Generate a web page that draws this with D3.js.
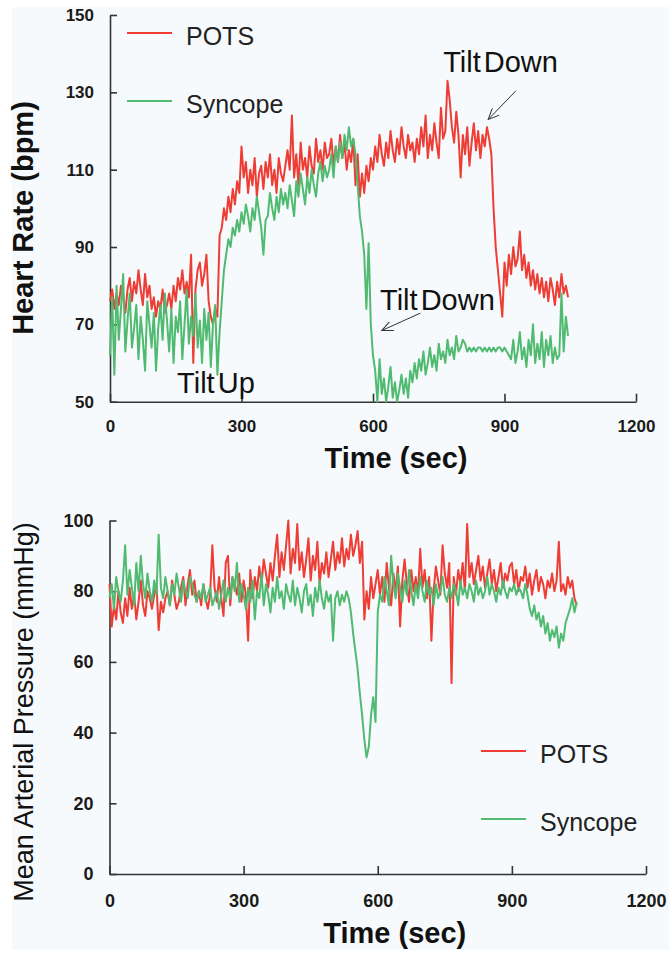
<!DOCTYPE html>
<html>
<head>
<meta charset="utf-8">
<script src="https://cdn.jsdelivr.net/npm/d3@7"></script>
<style>
  body { margin: 0; background: #fff; }
  .axis path, .axis line { stroke: #333; stroke-width: 1.6; }
  .axis text { fill: #1a1a1a; font-weight: bold; }
</style>
</head>
<body>
<div id="chart"></div>
<script>
// one sample every 5 seconds, starting at t = 0
var timeStep = 5;

var hrPots = [
  76,79,74,78,75,80,77,73,79,82,76,81,78,84,79,75,83,77,80,74,
  77,72,76,74,79,73,75,78,74,80,76,82,79,84,78,81,77,88,60,79,
  84,86,80,83,88,76,72,70,74,72,93,95,100,97,103,99,105,101,107,104,
  116,108,112,104,110,106,113,103,109,111,105,112,108,114,106,110,104,113,109,107,
  111,115,110,124,108,114,106,117,110,113,108,116,111,109,118,112,115,110,117,113,
  114,118,111,116,112,119,113,117,110,115,112,118,106,114,103,109,104,111,107,113,
  110,116,112,119,114,111,117,113,120,115,112,118,114,121,116,113,119,115,117,112,
  118,114,121,116,124,113,119,115,122,117,113,126,118,120,133,128,121,117,125,119,
  108,119,114,121,111,117,122,115,120,113,119,116,121,118,114,100,90,84,78,72,
  86,80,88,83,90,85,87,94,84,88,82,86,80,84,79,83,78,82,77,81,
  76,82,79,75,81,77,83,78,80,77
];

var hrSyncope = [
  62,77,57,80,66,74,83,63,71,78,64,69,75,61,72,66,58,76,70,64,
  73,58,69,75,66,78,71,63,74,60,72,68,76,61,70,79,65,72,67,78,
  64,71,60,74,66,73,59,70,75,57,68,76,84,88,92,90,95,93,97,94,
  99,96,101,98,94,100,97,103,99,95,88,97,98,104,100,97,103,99,105,101,
  104,100,106,102,98,107,103,109,105,101,108,104,110,106,103,109,112,107,111,108,
  110,114,108,116,112,117,113,119,115,121,116,118,114,106,98,94,88,74,91,70,
  62,58,50,61,52,56,50,54,59,51,55,50,53,57,52,56,51,58,55,60,
  56,61,58,63,57,60,64,59,62,58,65,61,63,60,66,62,64,61,67,63,
  64,66,65,63,64,63,64,63,64,64,63,64,63,64,63,64,63,64,64,63,
  64,63,62,61,66,60,63,68,61,64,59,66,62,70,60,65,61,68,59,66,
  62,67,60,64,61,62,78,63,72,67
];

var mapPots = [
  82,70,76,72,80,74,71,78,73,81,75,79,72,77,83,76,73,80,78,75,
  79,82,69,77,74,78,80,76,83,79,75,77,81,84,76,82,86,79,83,77,
  80,76,82,78,75,79,93,81,77,84,78,73,88,90,76,84,82,79,85,77,
  83,79,66,86,78,84,80,87,82,89,85,81,88,83,90,96,84,91,86,93,
  100,85,92,88,99,86,91,84,89,95,83,90,86,94,82,88,85,91,84,89,
  94,86,91,88,95,87,92,89,96,90,93,97,88,94,72,80,75,84,78,82,
  86,79,84,77,88,81,76,85,80,87,70,83,89,82,77,86,80,84,79,92,
  81,86,78,84,66,80,87,83,79,93,85,81,88,54,84,79,86,82,88,80,
  99,84,88,82,86,90,83,87,81,85,89,82,86,80,84,88,81,85,83,87,
  88,82,86,80,84,83,87,81,85,79,83,86,80,84,82,78,83,81,85,80,
  83,94,80,82,79,84,81,83,78,76
];

var mapSyncope = [
  78,82,75,84,80,77,83,93,79,86,81,76,88,80,90,82,78,85,80,77,
  83,79,96,81,78,84,80,76,82,79,85,81,77,83,80,78,84,82,79,77,
  80,78,82,77,79,81,76,78,80,75,79,83,77,81,78,84,80,88,77,82,
  79,75,81,77,83,72,80,78,85,76,82,79,74,81,77,84,78,80,75,82,
  79,77,83,76,81,78,74,80,82,76,79,73,81,77,83,78,75,80,77,79,
  66,78,80,76,79,77,80,78,74,68,63,58,51,45,38,33,36,45,50,43,
  74,79,77,84,80,76,90,82,78,85,81,77,83,79,86,80,76,82,78,84,
  80,77,83,79,81,76,82,78,80,84,79,77,81,78,82,80,76,83,79,81,
  78,82,80,77,83,79,81,78,80,84,79,82,80,77,81,79,83,80,78,81,
  80,82,79,81,80,78,82,79,75,73,76,72,74,70,73,68,71,66,69,67,
  70,64,68,66,71,73,75,78,74,77
];

var seriesNames = ["POTS", "Syncope"];
var seriesColors = ["#ee3d34", "#50bb70"];
var timeTicks = [0, 300, 600, 900, 1200];
var hrTicks = [50, 70, 90, 110, 130, 150];
var mapTicks = [0, 20, 40, 60, 80, 100];

var W = 669, H = 957;

var svg = d3.select("#chart").append("svg")
    .attr("width", W)
    .attr("height", H)
    .style("font-family", "'Liberation Sans', Arial, sans-serif");

svg.append("rect").attr("width", W).attr("height", H).attr("fill", "#fff");
svg.append("rect")
    .attr("x", 12).attr("y", 7)
    .attr("width", W - 12).attr("height", H - 14)
    .attr("fill", "#f7fafc");

// arrowhead used by the "Tilt" notes
svg.append("defs").append("marker")
    .attr("id", "open-arrow")
    .attr("viewBox", "0 0 12 10")
    .attr("refX", 11).attr("refY", 5)
    .attr("markerWidth", 12).attr("markerHeight", 10)
    .attr("markerUnits", "userSpaceOnUse")
    .attr("orient", "auto")
  .append("path")
    .attr("d", "M0,0 L11,5 L0,10")
    .attr("fill", "none")
    .attr("stroke", "#333")
    .attr("stroke-width", 1);

function drawPanel(p) {
  var g = svg.append("g");

  var x = d3.scaleLinear().domain([0, 1200]).range([p.left, p.right]);
  var y = d3.scaleLinear().domain(p.yDomain).range([p.bottom, p.top]);

  // x axis, ticks pointing inward
  g.append("g")
      .attr("class", "axis")
      .attr("transform", "translate(0," + p.bottom + ")")
      .call(d3.axisBottom(x).tickValues(timeTicks).tickFormat(d3.format("d"))
        .tickSizeInner(-8).tickSizeOuter(0).tickPadding(p.xPad))
      .selectAll("text").style("font-size", p.tickFont + "px");

  // y axis
  g.append("g")
      .attr("class", "axis")
      .attr("transform", "translate(" + p.left + ",0)")
      .call(d3.axisLeft(y).tickValues(p.yTicks).tickFormat(d3.format("d"))
        .tickSizeInner(-7).tickSizeOuter(0).tickPadding(16))
      .selectAll("text").style("font-size", p.tickFont + "px");

  var line = d3.line()
      .x(function(d, i) { return x(i * timeStep); })
      .y(function(d) { return y(d); });

  p.series.forEach(function(values, k) {
    g.append("path")
        .datum(values)
        .attr("fill", "none")
        .attr("stroke", seriesColors[k])
        .attr("stroke-width", 2)
        .attr("stroke-linejoin", "round")
        .attr("d", line);
  });

  // legend
  var legend = g.selectAll(".legend")
      .data(seriesNames)
    .enter().append("g")
      .attr("transform", function(d, i) { return "translate(" + p.legendX + "," + (p.legendY + i * p.legendGap) + ")"; });
  legend.append("line")
      .attr("x1", 0).attr("x2", 45)
      .attr("stroke", function(d, i) { return seriesColors[i]; })
      .attr("stroke-width", 2);
  legend.append("text")
      .attr("x", 59).attr("y", 12)
      .attr("font-size", 25)
      .attr("fill", "#222")
      .text(function(d) { return d; });

  // axis titles
  g.append("text")
      .attr("x", (p.left + p.right) / 2 + p.timeShift)
      .attr("y", p.timeY)
      .attr("text-anchor", "middle")
      .attr("font-size", 29)
      .attr("font-weight", "bold")
      .attr("fill", "#111")
      .text("Time (sec)");

  g.append("text")
      .attr("transform", "translate(33," + p.yTitleY + ") rotate(-90)")
      .attr("text-anchor", "middle")
      .attr("font-size", p.yTitleSize)
      .attr("font-weight", p.yTitleBold ? "bold" : "normal")
      .attr("fill", "#111")
      .text(p.yTitle);

  return {x: x, y: y, g: g};
}

var hrPanel = drawPanel({
  left: 110, right: 636, top: 15, bottom: 401.7,
  yDomain: [50, 150], yTicks: hrTicks,
  tickFont: 17, xPad: 18,
  series: [hrPots, hrSyncope],
  legendX: 127, legendY: 33, legendGap: 68,
  timeY: 468, timeShift: 23,
  yTitle: "Heart Rate (bpm)", yTitleY: 218, yTitleSize: 29, yTitleBold: true
});

var mapPanel = drawPanel({
  left: 109.5, right: 646, top: 520.5, bottom: 874,
  yDomain: [0, 100], yTicks: mapTicks,
  tickFont: 18, xPad: 20,
  series: [mapPots, mapSyncope],
  legendX: 481, legendY: 751, legendGap: 68,
  timeY: 943, timeShift: 17,
  yTitle: "Mean Arterial Pressure (mmHg)", yTitleY: 712, yTitleSize: 27, yTitleBold: false
});

// Tilt notes on the heart-rate panel, placed in data units
var notes = [
  {text: "Tilt Up",   t: 153, v: 52.2},
  {text: "Tilt Down", t: 760, v: 135.3},
  {text: "Tilt Down", t: 616, v: 73.7}
];
var arrows = [
  {t1: 926, v1: 130.4, t2: 863, v2: 123},
  {t1: 708, v1: 72.9,  t2: 620, v2: 68.4}
];

hrPanel.g.selectAll(".note")
    .data(notes)
  .enter().append("text")
    .attr("x", function(d) { return hrPanel.x(d.t); })
    .attr("y", function(d) { return hrPanel.y(d.v); })
    .attr("font-size", 29)
    .attr("word-spacing", -5)
    .attr("fill", "#111")
    .text(function(d) { return d.text; });

hrPanel.g.selectAll(".arrow")
    .data(arrows)
  .enter().append("line")
    .attr("x1", function(d) { return hrPanel.x(d.t1); })
    .attr("y1", function(d) { return hrPanel.y(d.v1); })
    .attr("x2", function(d) { return hrPanel.x(d.t2); })
    .attr("y2", function(d) { return hrPanel.y(d.v2); })
    .attr("stroke", "#333")
    .attr("stroke-width", 1)
    .attr("marker-end", "url(#open-arrow)");
</script>
</body>
</html>
